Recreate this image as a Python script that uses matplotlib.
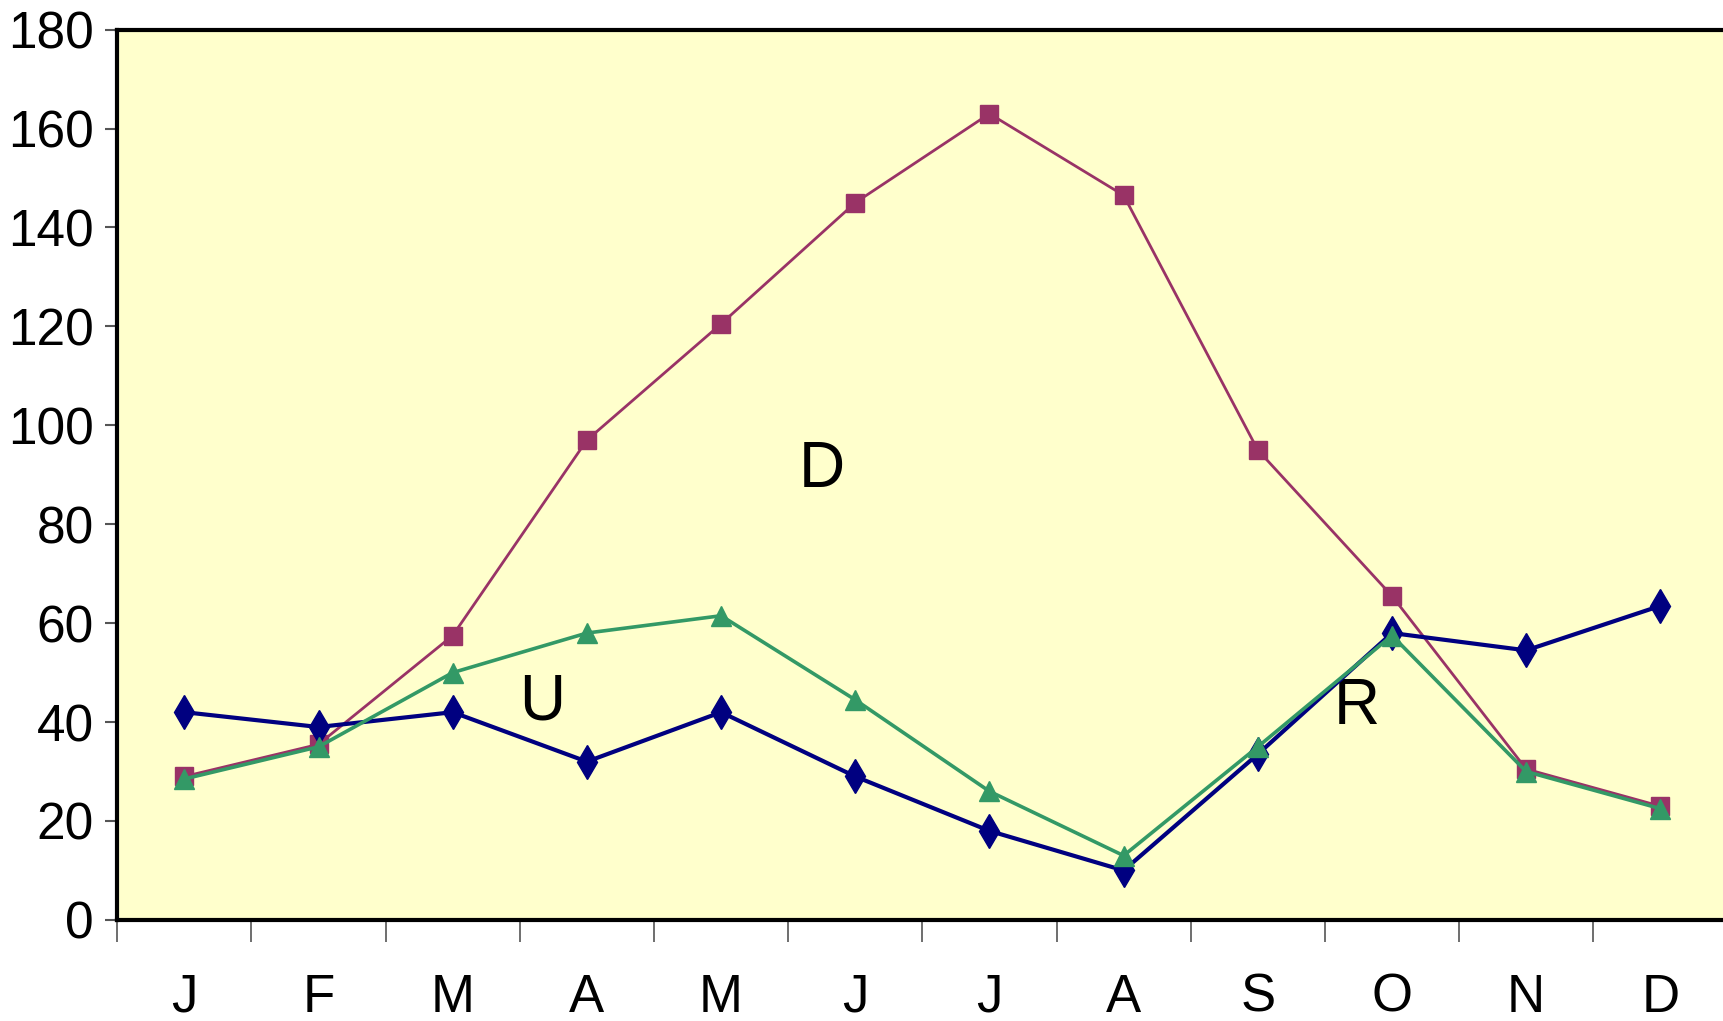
import matplotlib.pyplot as plt
import numpy as np

plt.rcParams['font.family'] = ['Liberation Sans Narrow', 'Liberation Sans', 'DejaVu Sans']

meses = ['J', 'F', 'M', 'A', 'M', 'J', 'J', 'A', 'S', 'O', 'N', 'D']
serie_u = [42, 39, 42, 32, 42, 29, 18, 10, 33.5, 58, 54.5, 63.5]     # azul, rombos
serie_d = [29, 35.5, 57.5, 97, 120.5, 145, 163, 146.5, 95, 65.5, 30.5, 23]  # granate, cuadrados
serie_r = [28.5, 35, 50, 58, 61.5, 44.5, 26, 13, 35, 57.5, 30, 22.5]  # verde, triangulos

x = np.arange(len(meses))

fig = plt.figure(figsize=(17.24, 10.21), dpi=100)
ax = fig.add_axes([0.068, 0.099, 0.934, 0.872])
ax.set_facecolor('#FFFFCC')

ax.plot(x, serie_d, color='#993366', lw=2, marker='s', ms=13, zorder=3)
ax.plot(x, serie_u, color='#000080', lw=3, marker='d', ms=17, zorder=4)
ax.plot(x, serie_r, color='#339966', lw=2.6, marker='^', ms=15, zorder=5)

ax.text(4.75, 91, 'D', fontsize=46, ha='center', va='center')
ax.text(2.67, 44, 'U', fontsize=46, ha='center', va='center')
ax.text(8.74, 43, 'R', fontsize=46, ha='center', va='center')

ax.set_xlim(-0.5, 11.5)
ax.set_ylim(0, 180)
ax.set_yticks(np.arange(0, 181, 20))
ax.set_xticks(x)
ax.set_xticklabels(meses)
ax.set_xticks(np.arange(-0.5, 12, 1), minor=True)
ax.tick_params(axis='x', which='major', length=0, pad=38, labelsize=38)
ax.tick_params(axis='x', which='minor', length=16, width=1.2, color='#555555')
ax.tick_params(axis='y', length=9, width=1.5, color='#555555', labelsize=37, pad=8)

for s in ['left', 'bottom', 'top']:
    ax.spines[s].set_linewidth(3)
    ax.spines[s].set_color('black')
ax.spines['right'].set_visible(False)

fig.savefig('out.png', dpi=100)
